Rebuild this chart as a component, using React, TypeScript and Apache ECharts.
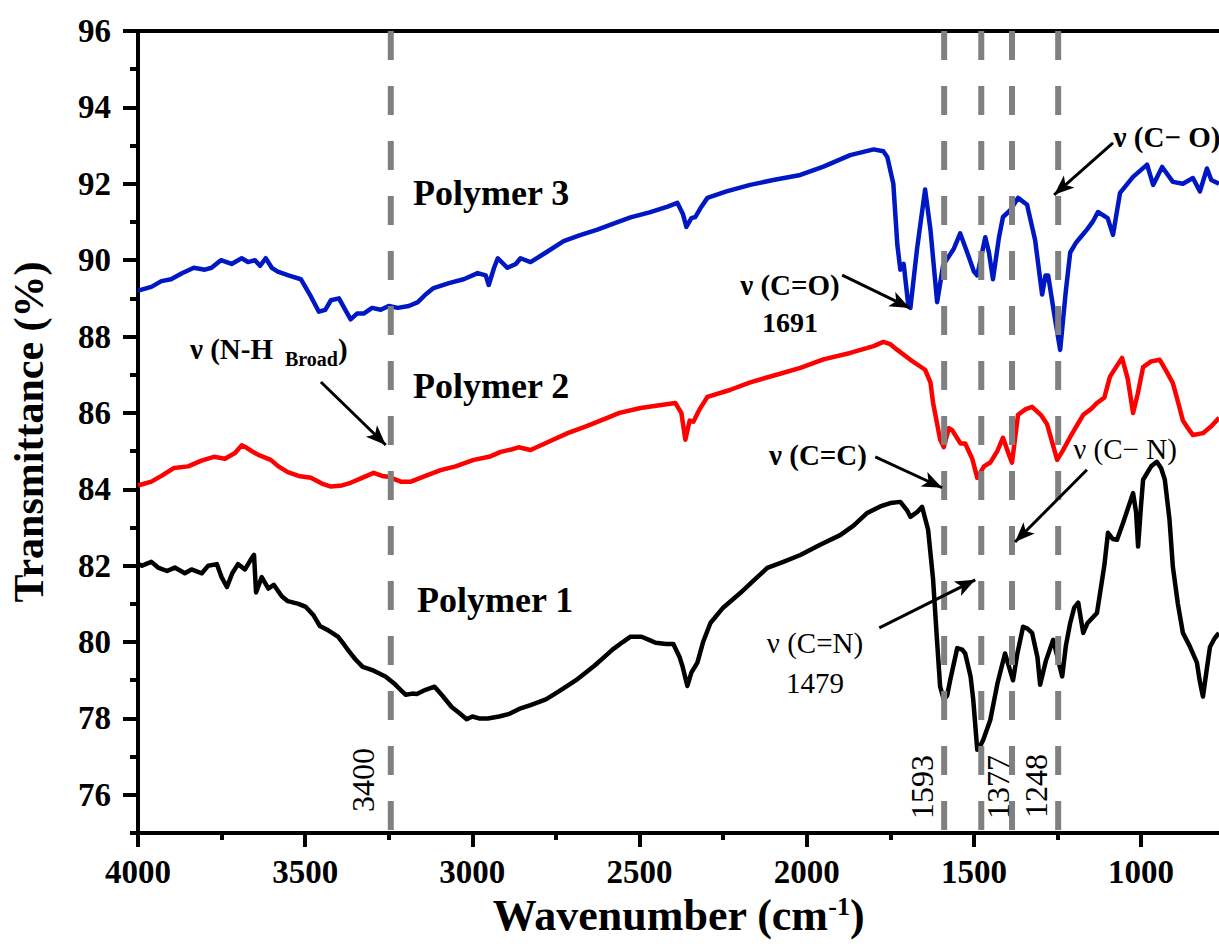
import React, { useEffect, useRef } from 'react';
import * as echarts from 'echarts';

const FONT = '"Liberation Serif", "Times New Roman", Times, serif';

// x ticks (wavenumber, cm-1) and y ticks (transmittance, %)
const xMajorTicks = [4000, 3500, 3000, 2500, 2000, 1500, 1000];
const xMinorTicks = [3750, 3250, 2750, 2250, 1750, 1250];
const yMajorTicks = [76, 78, 80, 82, 84, 86, 88, 90, 92, 94, 96];
const yMinorTicks = [75, 77, 79, 81, 83, 85, 87, 89, 91, 93, 95];

// Polymer 3 (blue)
const polymer3: [number, number][] = [
  [4000, 89.2], [3960, 89.3], [3930, 89.45], [3901, 89.5], [3870, 89.65], [3833, 89.8], [3800, 89.75],
  [3780, 89.8], [3752, 90.0], [3720, 89.9], [3690, 90.05], [3671, 89.95], [3650, 90.0], [3635, 89.85],
  [3618, 90.05], [3600, 89.8], [3582, 89.7], [3550, 89.6], [3513, 89.5], [3483, 89.05], [3459, 88.65],
  [3440, 88.7], [3423, 88.95], [3399, 89.0], [3380, 88.7], [3364, 88.45], [3345, 88.6], [3325, 88.6],
  [3300, 88.75], [3274, 88.7], [3250, 88.8], [3223, 88.75], [3190, 88.8], [3163, 88.9], [3140, 89.1],
  [3116, 89.27], [3070, 89.4], [3026, 89.5], [2984, 89.66], [2960, 89.6], [2951, 89.35], [2935, 89.8],
  [2924, 90.05], [2895, 89.8], [2870, 89.9], [2856, 90.05], [2826, 89.95], [2780, 90.2], [2727, 90.5],
  [2680, 90.65], [2626, 90.8], [2580, 90.95], [2527, 91.12], [2470, 91.25], [2416, 91.4], [2387, 91.5],
  [2370, 91.2], [2360, 90.87], [2345, 91.1], [2333, 91.13], [2315, 91.4], [2297, 91.63], [2240, 91.8],
  [2169, 91.97], [2100, 92.1], [2019, 92.23], [1950, 92.45], [1870, 92.75], [1800, 92.9], [1771, 92.85],
  [1759, 92.7], [1741, 92.0], [1729, 90.4], [1720, 89.75], [1710, 89.9], [1696, 88.8], [1690, 88.75],
  [1670, 90.3], [1646, 91.85], [1630, 90.8], [1610, 88.9], [1592, 89.87], [1560, 90.3], [1541, 90.7],
  [1520, 90.2], [1500, 89.7], [1490, 89.6], [1466, 90.6], [1455, 90.2], [1443, 89.5], [1425, 90.6],
  [1413, 91.13], [1392, 91.3], [1368, 91.63], [1341, 91.45], [1317, 90.53], [1296, 89.1], [1286, 89.6],
  [1278, 89.6], [1260, 88.6], [1242, 87.65], [1225, 89.2], [1212, 90.2], [1195, 90.45], [1183, 90.58],
  [1162, 90.8], [1145, 91.0], [1129, 91.26], [1100, 91.1], [1084, 90.66], [1063, 91.76], [1024, 92.18],
  [982, 92.5], [964, 91.97], [937, 92.44], [905, 92.05], [875, 92.0], [845, 92.15], [824, 91.8],
  [803, 92.4], [790, 92.1], [767, 92.0],
];

// Polymer 2 (red)
const polymer2: [number, number][] = [
  [4000, 84.1], [3960, 84.2], [3930, 84.35], [3892, 84.56], [3850, 84.6], [3810, 84.75], [3773, 84.85],
  [3740, 84.8], [3710, 84.95], [3690, 85.15], [3677, 85.1], [3660, 85.0], [3640, 84.9], [3603, 84.77],
  [3580, 84.6], [3552, 84.45], [3520, 84.35], [3483, 84.3], [3450, 84.15], [3423, 84.07], [3390, 84.1],
  [3364, 84.17], [3330, 84.3], [3295, 84.43], [3270, 84.35], [3253, 84.33], [3214, 84.2], [3184, 84.2],
  [3140, 84.35], [3095, 84.5], [3050, 84.6], [2996, 84.77], [2950, 84.85], [2915, 84.98], [2880, 85.05],
  [2862, 85.1], [2826, 85.03], [2770, 85.25], [2715, 85.47], [2660, 85.65], [2617, 85.8], [2560, 86.0],
  [2497, 86.13], [2440, 86.2], [2393, 86.26], [2375, 86.0], [2363, 85.3], [2350, 85.8], [2339, 85.77],
  [2320, 86.1], [2297, 86.42], [2230, 86.6], [2169, 86.8], [2090, 87.0], [2019, 87.18], [1950, 87.4],
  [1870, 87.57], [1800, 87.75], [1771, 87.86], [1750, 87.8], [1729, 87.65], [1690, 87.39], [1646, 87.13],
  [1630, 86.8], [1622, 86.26], [1601, 85.3], [1590, 85.1], [1575, 85.6], [1565, 85.55], [1540, 85.2],
  [1526, 85.2], [1505, 84.8], [1490, 84.3], [1470, 84.6], [1451, 84.7], [1430, 85.0], [1413, 85.35],
  [1395, 84.9], [1386, 84.7], [1368, 85.95], [1345, 86.1], [1326, 86.16], [1300, 85.95], [1281, 85.7],
  [1265, 85.2], [1251, 84.77], [1235, 85.0], [1212, 85.37], [1190, 85.7], [1173, 85.95], [1150, 86.1],
  [1132, 86.26], [1110, 86.4], [1093, 86.95], [1075, 87.2], [1057, 87.44], [1040, 86.9], [1024, 86.0],
  [1010, 86.5], [994, 87.2], [970, 87.35], [944, 87.39], [925, 87.1], [905, 86.78], [890, 86.3],
  [875, 85.8], [860, 85.6], [845, 85.42], [815, 85.47], [790, 85.65], [767, 85.87],
];

// Polymer 1 (black)
const polymer1: [number, number][] = [
  [4000, 82.05], [3988, 82.0], [3960, 82.1], [3940, 81.95], [3913, 81.86], [3890, 81.95], [3860, 81.8],
  [3840, 81.9], [3809, 81.8], [3790, 82.0], [3764, 82.04], [3750, 81.7], [3734, 81.44], [3718, 81.8],
  [3701, 82.04], [3680, 81.9], [3660, 82.2], [3653, 82.28], [3647, 81.3], [3630, 81.7], [3610, 81.4],
  [3594, 81.5], [3570, 81.2], [3552, 81.07], [3520, 81.0], [3498, 80.92], [3475, 80.7], [3456, 80.42],
  [3430, 80.3], [3402, 80.14], [3385, 79.95], [3370, 79.77], [3350, 79.55], [3328, 79.35], [3310, 79.3],
  [3295, 79.25], [3260, 79.1], [3232, 78.9], [3215, 78.75], [3199, 78.62], [3180, 78.65], [3166, 78.64],
  [3140, 78.75], [3113, 78.83], [3090, 78.6], [3062, 78.3], [3040, 78.15], [3017, 77.98], [3000, 78.05],
  [2980, 78.0], [2954, 78.0], [2920, 78.05], [2889, 78.12], [2860, 78.25], [2826, 78.35], [2780, 78.5],
  [2739, 78.72], [2690, 79.0], [2635, 79.38], [2600, 79.65], [2581, 79.8], [2550, 80.0], [2527, 80.14],
  [2494, 80.14], [2470, 80.05], [2452, 79.98], [2420, 79.95], [2399, 79.95], [2380, 79.6], [2372, 79.38],
  [2357, 78.85], [2345, 79.2], [2327, 79.46], [2310, 80.0], [2288, 80.5], [2250, 80.9], [2198, 81.29],
  [2160, 81.6], [2118, 81.94], [2070, 82.1], [2019, 82.28], [1960, 82.55], [1900, 82.8], [1860, 83.05],
  [1819, 83.38], [1780, 83.55], [1750, 83.64], [1720, 83.67], [1700, 83.45], [1690, 83.28], [1670, 83.4],
  [1655, 83.54], [1637, 82.94], [1622, 81.63], [1610, 80.0], [1601, 78.83], [1590, 78.49], [1580, 78.6],
  [1571, 79.0], [1550, 79.84], [1535, 79.8], [1526, 79.7], [1510, 79.1], [1502, 78.49], [1490, 77.18],
  [1480, 77.3], [1472, 77.44], [1451, 77.96], [1430, 78.9], [1407, 79.7], [1395, 79.35], [1383, 79.0],
  [1370, 79.7], [1353, 80.4], [1340, 80.35], [1326, 80.24], [1310, 79.6], [1302, 78.88], [1285, 79.5],
  [1263, 80.06], [1250, 79.6], [1236, 79.1], [1225, 79.9], [1212, 80.5], [1200, 80.9], [1188, 81.03],
  [1180, 80.6], [1173, 80.24], [1160, 80.5], [1132, 80.76], [1110, 82.0], [1099, 82.86], [1085, 82.7],
  [1072, 82.68], [1054, 83.12], [1024, 83.9], [1015, 83.4], [1009, 82.5], [1000, 83.6], [994, 84.25],
  [970, 84.6], [953, 84.72], [940, 84.55], [929, 84.25], [915, 83.2], [905, 81.97], [890, 81.0],
  [875, 80.24], [855, 79.9], [833, 79.46], [825, 79.0], [815, 78.57], [805, 79.2], [794, 79.87],
  [780, 80.1], [767, 80.24],
];

// dashed band markers (drawn position)
const bandPositions = [3244, 1589, 1478, 1386, 1248];

// annotation arrows: [fromWn, fromT, toWn, toT]
const arrows: [number, number, number, number][] = [
  [3453, 86.81, 3259, 85.16],
  [1894, 89.61, 1692, 88.75],
  [1795, 84.85, 1595, 84.04],
  [1162, 84.51, 1377, 82.62],
  [1783, 80.37, 1496, 81.63],
  [1084, 93.07, 1260, 91.71],
];

const X_MIN = 767;
const X_MAX = 4000;
const Y_MIN = 75;
const Y_MAX = 96;

function txt(text: string, x: number, y: number, size: number, bold: boolean, align = 'center', rotation = 0) {
  return {
    type: 'text',
    x,
    y,
    rotation,
    z: 100,
    style: {
      text,
      fontSize: size,
      fontWeight: bold ? 'bold' : 'normal',
      fontFamily: FONT,
      fill: '#000',
      align,
      verticalAlign: 'middle',
    },
  };
}

export default function App() {
  const ref = useRef<HTMLDivElement>(null);

  useEffect(() => {
    if (!ref.current) return;
    const chart = echarts.init(ref.current, undefined, { renderer: 'svg' });

    const axisLineStyle = { color: '#000', width: 4 };
    const tickLabel = {
      fontSize: 33,
      fontWeight: 'bold',
      fontFamily: FONT,
      color: '#000',
      formatter: (v: number) => String(v),
    };

    const curve = (name: string, data: [number, number][], color: string) => ({
      name,
      type: 'line',
      data,
      symbol: 'none',
      showSymbol: false,
      silent: true,
      z: 2,
      lineStyle: { color, width: 4.5, join: 'round' },
    });

    const dashed = bandPositions.map((p) => ({
      type: 'line',
      data: [[p, Y_MAX], [p, Y_MIN]],
      symbol: 'none',
      silent: true,
      z: 3,
      lineStyle: { color: '#808080', width: 6, type: [29, 26] },
    }));

    const arrowSeries = {
      type: 'line',
      data: [],
      silent: true,
      z: 4,
      markLine: {
        silent: true,
        animation: false,
        symbol: ['none', 'arrow'],
        symbolSize: [12, 20],
        label: { show: false },
        lineStyle: { color: '#000', width: 3, type: 'solid' },
        data: arrows.map(([x1, y1, x2, y2]) => [
          { coord: [x1, y1], symbol: 'none' },
          { coord: [x2, y2], symbol: 'arrow', symbolSize: [12, 20] },
        ]),
      },
    };

    chart.setOption({
      animation: false,
      grid: { left: 137, right: 0, top: 31, bottom: 117, containLabel: false },
      xAxis: [
        {
          type: 'value',
          min: X_MIN,
          max: X_MAX,
          inverse: true,
          position: 'bottom',
          axisLine: { show: true, onZero: false, lineStyle: axisLineStyle },
          axisTick: { show: true, length: 14, lineStyle: { width: 4, color: '#000' }, customValues: xMajorTicks },
          axisLabel: { ...tickLabel, margin: 22, customValues: xMajorTicks },
          splitLine: { show: false },
          name: '{a|Wavenumber (cm}{b|-1}{a|)}',
          nameLocation: 'middle',
          nameGap: 60,
          nameTextStyle: {
            rich: {
              a: { fontSize: 44, fontWeight: 'bold', fontFamily: FONT, color: '#000' },
              b: { fontSize: 26, fontWeight: 'bold', fontFamily: FONT, color: '#000', verticalAlign: 'top' },
            },
          },
        },
        {
          type: 'value',
          min: X_MIN,
          max: X_MAX,
          inverse: true,
          position: 'top',
          axisLine: { show: true, onZero: false, lineStyle: axisLineStyle },
          axisTick: { show: false },
          axisLabel: { show: false },
          splitLine: { show: false },
        },
        {
          type: 'value',
          min: X_MIN,
          max: X_MAX,
          inverse: true,
          position: 'bottom',
          axisLine: { show: false, onZero: false },
          axisTick: { show: true, length: 7, lineStyle: { width: 4, color: '#000' }, customValues: xMinorTicks },
          axisLabel: { show: false, customValues: xMinorTicks },
          splitLine: { show: false },
        },
      ],
      yAxis: [
        {
          type: 'value',
          min: Y_MIN,
          max: Y_MAX,
          position: 'left',
          axisLine: { show: true, onZero: false, lineStyle: axisLineStyle },
          axisTick: { show: true, length: 15, lineStyle: { width: 4, color: '#000' }, customValues: yMajorTicks },
          axisLabel: { ...tickLabel, margin: 27, customValues: yMajorTicks },
          splitLine: { show: false },
          name: 'Transmittance (%)',
          nameLocation: 'middle',
          nameGap: 88,
          nameTextStyle: { fontSize: 42, fontWeight: 'bold', fontFamily: FONT, color: '#000' },
        },
        {
          type: 'value',
          min: Y_MIN,
          max: Y_MAX,
          position: 'left',
          axisLine: { show: false, onZero: false },
          axisTick: { show: true, length: 8, lineStyle: { width: 4, color: '#000' }, customValues: yMinorTicks },
          axisLabel: { show: false, customValues: yMinorTicks },
          splitLine: { show: false },
        },
      ],
      series: [
        curve('Polymer 1', polymer1, '#000000'),
        curve('Polymer 2', polymer2, '#ff0000'),
        curve('Polymer 3', polymer3, '#0018c4'),
        ...dashed,
        arrowSeries,
      ],
      graphic: [
        txt('Polymer 3', 413, 193, 36, true, 'left'),
        txt('Polymer 2', 413, 386, 36, true, 'left'),
        txt('Polymer 1', 417, 600, 36, true, 'left'),
        txt('ν (N-H', 190, 349, 29, true, 'left'),
        txt('Broad', 285, 359, 20, true, 'left'),
        txt(')', 338, 349, 29, true, 'left'),
        txt('ν (C=O)', 790, 285, 29, true),
        txt('1691', 790, 322, 28, true),
        txt('ν (C=C)', 818, 455, 29, true),
        txt('ν (C− N)', 1125, 449, 29, false),
        txt('ν (C=N)', 815, 643, 29, false),
        txt('1479', 815, 683, 29, false),
        txt('ν (C− O)', 1167, 137, 29, true),
        txt('3400', 363, 780, 32, false, 'center', Math.PI / 2),
        txt('1593', 922, 787, 32, false, 'center', Math.PI / 2),
        txt('1377', 998, 787, 32, false, 'center', Math.PI / 2),
        txt('1248', 1036, 786, 32, false, 'center', Math.PI / 2),
      ],
    });

    return () => chart.dispose();
  }, []);

  return (
    <div
      ref={ref}
      style={{ position: 'absolute', left: 0, top: 0, width: 1219, height: 950, background: '#fff' }}
    />
  );
}
